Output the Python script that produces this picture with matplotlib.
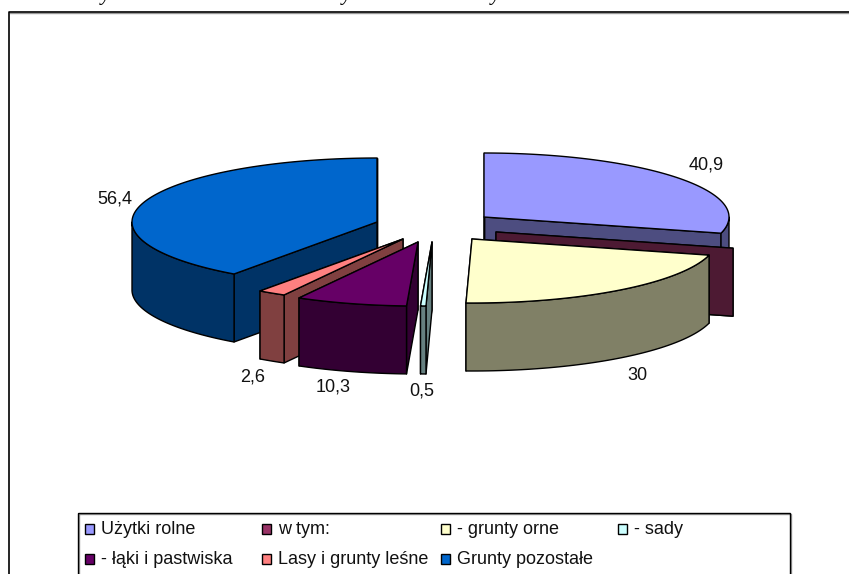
"""Exploded 3D land-use pie, drawn as projected polygons in pixel coordinates."""

import matplotlib.pyplot as plt
import numpy as np
from matplotlib.patches import Rectangle

categories = ["Użytki rolne", "w tym:", "- grunty orne", "- sady",
              "- łąki i pastwiska", "Lasy i grunty leśne", "Grunty pozostałe"]
values = [40.9, 0, 30, 0.5, 10.3, 2.6, 56.4]

top_colors = ["#9999FF", "#993366", "#FFFFCC", "#CCFFFF", "#660066", "#FF8080", "#0066CC"]
wall_colors = ["#4D4D80", "#4D1A33", "#808066", "#668080", "#330033", "#804040", "#003366"]

# exploded slice centres, and label centres, in image pixels
centers = [(484, 217), (496, 232), (472, 239), (432, 242), (418, 242), (403, 239), (377, 222)]
label_pos = [(706, 165), None, (637, 376), (422, 391), (333, 387), (253, 377), (115, 199)]
draw_order = [0, 1, 2, 6, 5, 4, 3]

RX, RY, DEPTH = 245, 64, 68
FONT = ["Liberation Sans", "DejaVu Sans"]

plt.rcParams["font.family"] = FONT
fig = plt.figure(figsize=(8.49, 5.74), dpi=100)
ax = fig.add_axes([0, 0, 1, 1])
ax.set_xlim(0, 849)
ax.set_ylim(574, 0)
ax.axis("off")


def rim(cx, cy, deg):
    t = np.radians(deg)
    return np.column_stack([cx + RX * np.sin(t), cy - RY * np.cos(t)])


def draw_poly(pts, color, z):
    ax.fill(pts[:, 0], pts[:, 1], facecolor=color, edgecolor="black",
            linewidth=1.0, joinstyle="round", zorder=z)


def draw_slice(i, start, end, z):
    cx, cy = centers[i]
    apex = np.array([[cx, cy]])
    down = np.array([0, DEPTH])
    for deg in (end, start):
        edge = np.vstack([apex, rim(cx, cy, np.array([deg]))])
        draw_poly(np.vstack([edge, edge[::-1] + down]), wall_colors[i], z)
    lo, hi = max(start, 90), min(end, 270)
    if hi > lo:
        arc = rim(cx, cy, np.linspace(lo, hi, 60))
        draw_poly(np.vstack([arc, arc[::-1] + down]), wall_colors[i], z + 0.1)
    if end > start:
        arc = rim(cx, cy, np.linspace(start, end, 120))
        draw_poly(np.vstack([apex, arc]), top_colors[i], z + 0.2)


total = sum(values)
bounds = np.concatenate([[0], np.cumsum(values)]) / total * 360
for n, i in enumerate(draw_order):
    draw_slice(i, bounds[i], bounds[i + 1], n + 2)

for v, pos in zip(values, label_pos):
    if pos is not None:
        ax.text(pos[0], pos[1], f"{v:g}".replace(".", ","), fontsize=13,
                color="#111111", ha="center", va="center", zorder=30)

# outer frame, cut by the image on the right and at the bottom
ax.plot([10, 849], [13, 13], color="#999999", lw=1.0, zorder=1)
ax.plot([9, 9, 849], [580, 12, 12], color="black", lw=1.2, zorder=1)

# legend box and entries
ax.add_patch(Rectangle((79, 514), 712, 80, facecolor="none", edgecolor="#999999", lw=1.0, zorder=1))
ax.add_patch(Rectangle((78, 513), 712, 80, facecolor="none", edgecolor="black", lw=1.0, zorder=1))
legend_x = [85, 262, 441, 618]
legend_y = [529, 559]
for i, name in enumerate(categories):
    x = legend_x[i % 4]
    y = legend_y[i // 4]
    ax.add_patch(Rectangle((x, y - 5), 9, 10, facecolor=top_colors[i], edgecolor="black", lw=1.0, zorder=3))
    ax.text(x + 16, y + 1, name, fontsize=13, color="#111111", va="center", ha="left", zorder=3)

# descenders of the caption line cut off by the top of the page
for x in (105, 346, 495):
    ax.text(x, 0, "y", fontsize=15, family="Liberation Serif", style="italic",
            ha="center", va="baseline", color="black", zorder=3, clip_on=True)

fig.savefig("out.png", dpi=100)
